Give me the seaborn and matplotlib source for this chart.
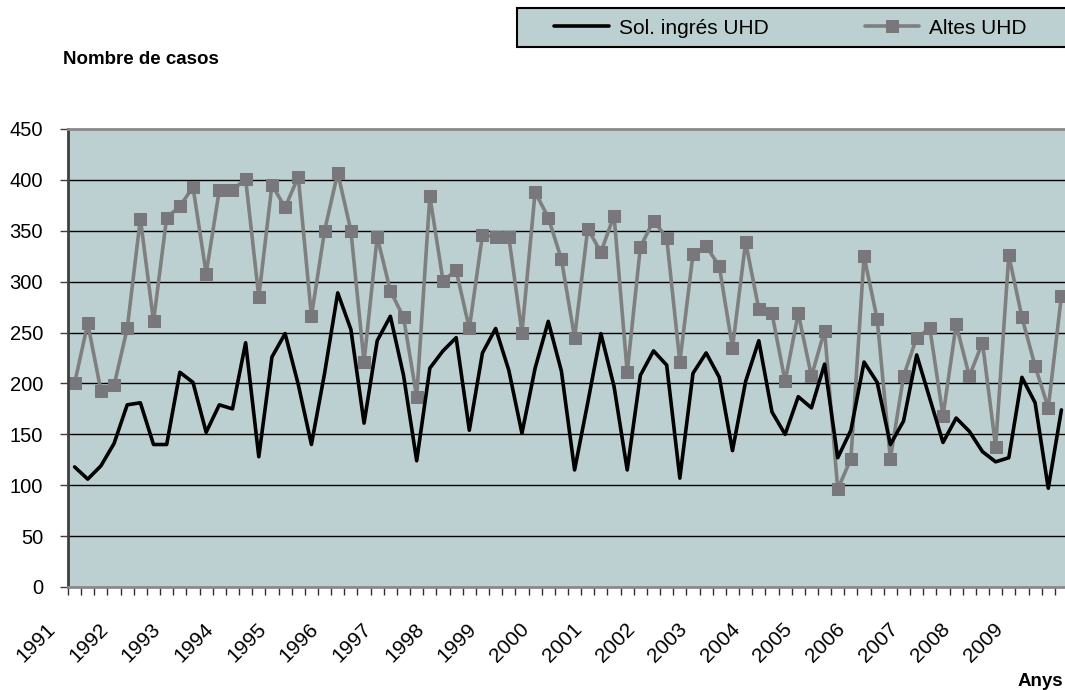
import numpy as np
import pandas as pd
import matplotlib
matplotlib.use("Agg")
import matplotlib.pyplot as plt
import seaborn as sns
from matplotlib.patches import Rectangle
from matplotlib.transforms import ScaledTranslation
from matplotlib.ticker import FixedLocator, MultipleLocator

# ---- dades (trimestrals, 1991-2009) ----
years = list(range(1991, 2010))
sol_ingres = [118, 106, 119, 141, 179, 181, 140, 140, 211, 201, 152, 179,
              175, 240, 128, 226, 249, 199, 140, 210, 289, 253, 161, 242,
              266, 208, 124, 215, 232, 245, 154, 230, 254, 213, 151, 215,
              261, 212, 115, 181, 249, 197, 115, 208, 232, 218, 107, 210,
              230, 206, 134, 202, 242, 172, 150, 187, 176, 219, 127, 154,
              221, 201, 140, 163, 228, 185, 142, 166, 153, 133, 123, 127,
              206, 181, 97, 174]
altes = [200, 259, 193, 198, 254, 362, 261, 363, 374, 393, 308, 390,
         390, 401, 285, 395, 373, 403, 266, 350, 407, 350, 221, 344,
         291, 265, 187, 384, 301, 311, 254, 346, 344, 344, 250, 388,
         363, 322, 245, 352, 329, 365, 211, 334, 360, 343, 221, 327,
         335, 315, 235, 339, 273, 269, 202, 269, 207, 252, 96, 126,
         325, 263, 126, 207, 245, 254, 168, 258, 207, 240, 138, 326,
         265, 217, 176, 286]

n = len(altes)
df = pd.DataFrame({"idx": np.arange(n), "sol": sol_ingres, "altes": altes})

BG = "#bdd0d1"
GRAY = "#7f7f7f"

sns.set_style("white")
plt.rcParams["font.family"] = ["Liberation Sans", "DejaVu Sans"]
plt.rcParams["text.color"] = "black"
plt.rcParams["xtick.color"] = "black"
plt.rcParams["ytick.color"] = "black"

fig = plt.figure(figsize=(10.65, 6.9), dpi=100)
ax = fig.add_axes([68 / 1065, 103 / 690, 1000 / 1065, 458 / 690])
ax.set_facecolor(BG)

# graella horitzontal
for v in range(50, 450, 50):
    ax.axhline(v, color="black", lw=1, zorder=1)

sns.lineplot(data=df, x="idx", y="sol", ax=ax, color="black", lw=2.6,
             label="Sol. ingrés UHD", zorder=3)
sns.lineplot(data=df, x="idx", y="altes", ax=ax, color=GRAY, lw=2.6,
             marker="s", markersize=9, markeredgecolor="#77777c",
             markerfacecolor="#77777c", label="Altes UHD", zorder=2)

ax.set_xlim(-0.5, n - 0.5)
ax.set_ylim(0, 450)
ax.set_xlabel("")
ax.set_ylabel("")

# eix y
ax.yaxis.set_major_locator(MultipleLocator(50))
ax.tick_params(axis="y", which="major", left=True, direction="out", length=6,
               width=1, color="#404040", pad=12, labelsize=14.5,
               labelcolor="black")

# eix x: marques entre categories, etiquetes d'any
ax.xaxis.set_minor_locator(FixedLocator(np.arange(-0.5, n, 1)))
ax.set_xticks(np.arange(0, n, 4))
ax.set_xticklabels([str(y) for y in years])
ax.tick_params(axis="x", which="minor", bottom=True, direction="out",
               length=6, width=1, color="#303030")
ax.tick_params(axis="x", which="major", bottom=True, length=0, pad=0,
               labelsize=15, labelcolor="black")
off = ScaledTranslation(-0.22, -0.39, fig.dpi_scale_trans)
for lab in ax.get_xticklabels():
    lab.set_rotation(45)
    lab.set_rotation_mode("anchor")
    lab.set_ha("right")
    lab.set_va("center")
    lab.set_transform(lab.get_transform() + off)

for s in ["top", "right", "bottom"]:
    ax.spines[s].set_color("#8a8a8a")
    ax.spines[s].set_linewidth(2)
ax.spines["left"].set_color("#404040")
ax.spines["left"].set_linewidth(2)

# llegenda (marc dibuixat a part, surt per la dreta com a l'original)
fig.patches.append(Rectangle((517 / 1065, 1 - 47 / 690), 570 / 1065, 39 / 690,
                             transform=fig.transFigure, facecolor=BG,
                             edgecolor="black", lw=1.5, zorder=-1))
leg = ax.legend(loc="center left", ncol=2,
                bbox_to_anchor=(546 / 1065, 1 - 28 / 690),
                bbox_transform=fig.transFigure, fontsize=15, handlelength=2.6,
                handletextpad=0.5, columnspacing=4.6, frameon=False,
                borderaxespad=0)

fig.text(63 / 1065, 1 - 60 / 690, "Nombre de casos", fontsize=13.5,
         fontweight="bold", ha="left", va="center")
fig.text(1018 / 1065, 1 - 682 / 690, "Anys", fontsize=13.5,
         fontweight="bold", ha="left", va="center")

fig.savefig("out.png", dpi=100)
